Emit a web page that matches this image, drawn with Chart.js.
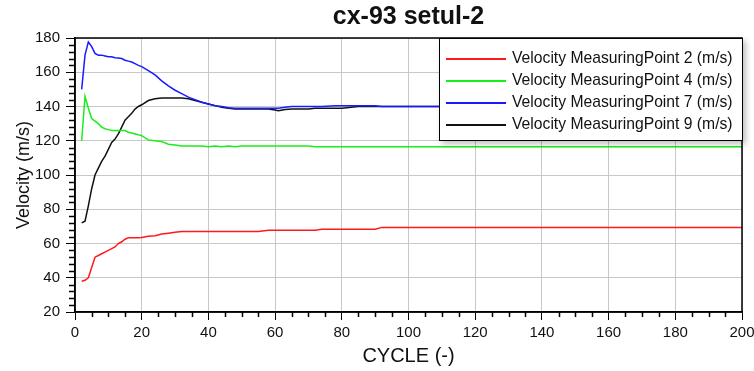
<!DOCTYPE html>
<html>
<head>
<meta charset="utf-8">
<script src="https://cdn.jsdelivr.net/npm/chart.js@4"></script>
<style>
  html, body { margin: 0; padding: 0; background: #fff; }
  #wrap { position: relative; width: 754px; height: 371px; }
  #legend {
    position: absolute; left: 439px; top: 38px; width: 302px; height: 101px;
    background: #fff; border: 1.5px solid #000;
    box-shadow: 3px 3px 6px rgba(0,0,0,0.25);
    font-family: "Liberation Sans", Arial, sans-serif; font-size: 15.7px; color: #111;
  }
  #legend .row { position: absolute; left: 6px; height: 22px; line-height: 22px; white-space: nowrap; }
  #legend .swatch { display: inline-block; width: 60px; height: 0; border-top: 2px solid; vertical-align: middle; margin-right: 6px; }
</style>
</head>
<body>
<div id="wrap">
  <canvas id="chart" width="754" height="371"></canvas>
  <div id="legend"></div>
</div>
<script>
const cycles = [2,3,4,5,6,7,8,9,10,11,12,13,14,15,16,17,18,19,20,
  22,24,26,28,30,32,34,36,38,40,42,44,46,48,50,
  55,58,60,61,63,65,70,72,74,78,80,85,90,92,
  100,120,140,160,180,200];

const mp2 = [38,38.5,40,46,52,53,54,55,56,57,58,60,61,62.5,63.3,63.3,63.3,63.3,63.5,
  64.2,64.5,65.5,66,66.5,67,67,67,67,67,67,67,67,67,67,
  67,67.7,67.7,67.7,67.7,67.7,67.7,67.7,68.3,68.3,68.3,68.3,68.3,69.4,
  69.4,69.4,69.4,69.4,69.4,69.4];

const mp4 = [120,146,139,133,131.5,130,128,127,126.5,126,126,126,126,126,125,124.5,124,123.5,123,
  120.5,120,119.5,118,117.5,117,117,117,117,116.5,117,116.5,117,116.5,117,
  117,117,117,117,117,117,117,116.5,116.5,116.5,116.5,116.5,116.5,116.5,
  116.5,116.5,116.5,116.5,116.5,116.5];

const mp7 = [150,170,177.7,175,171,170,170,169.5,169,169,168.5,168.3,168,167,166.5,166,165,164,163.3,
  161,158.5,155,152,149.5,147.5,145.5,144,142.5,141.5,140.5,140,139.3,139,139,
  139,139,139,139,139.5,140,140,140,140,140.5,140.5,140.5,140.5,140,
  140,140,140,140,140,140];

const mp9 = [72,73,82,92,100,104,108,111,115,119,121,124,128,132,134,136,138.5,140,141,
  143.5,144.5,145,145,145,145,144.5,143.5,142.5,141.5,140.5,139.5,139,138.5,138.5,
  138.5,138.5,138,137.5,138.3,138.5,138.5,139,139,139,139,140,140,140,
  140,140,140,140,140,140];

const seriesNames = [
  'Velocity MeasuringPoint 2 (m/s)',
  'Velocity MeasuringPoint 4 (m/s)',
  'Velocity MeasuringPoint 7 (m/s)',
  'Velocity MeasuringPoint 9 (m/s)'
];
const seriesColors = ['#ff1a1a', '#1aee1a', '#1a1aff', '#111111'];
const seriesValues = [mp2, mp4, mp7, mp9];

const xTicks = [0, 20, 40, 60, 80, 100, 120, 140, 160, 180, 200];
const yTicks = [20, 40, 60, 80, 100, 120, 140, 160, 180];

const FONT = '"Liberation Sans", Arial, sans-serif';

// frame + minor ticks
const framePlugin = {
  id: 'frame',
  afterDraw(chart) {
    const ctx = chart.ctx;
    const a = chart.chartArea;
    const xs = chart.scales.x, ys = chart.scales.y;
    ctx.save();
    ctx.strokeStyle = '#000';
    ctx.lineWidth = 1.5;
    ctx.strokeRect(a.left, a.top, a.right - a.left, a.bottom - a.top);
    ctx.beginPath();
    for (let v = 20; v <= 180; v += 4) {
      if (v % 20 === 0) continue;
      const y = Math.round(ys.getPixelForValue(v)) + 0.5;
      ctx.moveTo(a.left - 6, y);
      ctx.lineTo(a.left, y);
    }
    for (let v = 0; v <= 200; v += 5) {
      if (v % 20 === 0) continue;
      const x = Math.round(xs.getPixelForValue(v)) + 0.5;
      ctx.moveTo(x, a.bottom);
      ctx.lineTo(x, a.bottom + 5);
    }
    ctx.stroke();
    ctx.restore();
  }
};

new Chart(document.getElementById('chart'), {
  type: 'line',
  data: {
    datasets: seriesNames.map((name, k) => ({
      label: name,
      data: cycles.map((c, i) => ({ x: c, y: seriesValues[k][i] })),
      borderColor: seriesColors[k],
      borderWidth: 1.5,
      pointRadius: 0,
      tension: 0,
      fill: false
    }))
  },
  options: {
    responsive: false,
    animation: false,
    devicePixelRatio: 1,
    layout: { padding: { left: 0, right: 12, top: 0, bottom: 0 } },
    plugins: {
      legend: { display: false },
      tooltip: { enabled: false },
      title: {
        display: true,
        text: 'cx-93 setul-2',
        fullSize: false,
        color: '#111',
        font: { family: FONT, size: 25, weight: 'bold' },
        padding: { top: 2, bottom: 6 }
      }
    },
    scales: {
      x: {
        type: 'linear',
        min: 0, max: 200,
        afterBuildTicks: s => { s.ticks = xTicks.map(v => ({ value: v })); },
        afterFit: s => { s.height = 59; s.paddingLeft = 0; s.paddingRight = 0; },
        ticks: { color: '#111', font: { family: FONT, size: 15 }, padding: 4, maxRotation: 0 },
        grid: { color: '#c8c8c8', borderDash: [2, 2], tickColor: '#000', tickLength: 8, tickBorderDash: [] },
        border: { display: true, color: '#000', width: 1.5 },
        title: { display: true, text: 'CYCLE (-)', color: '#111', font: { family: FONT, size: 20 }, padding: { top: 0, bottom: 3 } }
      },
      y: {
        type: 'linear',
        min: 20, max: 180,
        afterBuildTicks: s => { s.ticks = yTicks.map(v => ({ value: v })); },
        afterFit: s => { s.width = 75; },
        ticks: { color: '#111', font: { family: FONT, size: 15 }, padding: 6 },
        grid: { color: '#c8c8c8', borderDash: [2, 2], tickColor: '#000', tickLength: 9, tickBorderDash: [] },
        border: { display: true, color: '#000', width: 1.5 },
        title: { display: true, text: 'Velocity (m/s)', color: '#111', font: { family: FONT, size: 18 }, padding: { top: 13, bottom: 0 } }
      }
    }
  },
  plugins: [framePlugin]
});

const legend = document.getElementById('legend');
seriesNames.forEach((name, k) => {
  const row = document.createElement('div');
  row.className = 'row';
  row.style.top = (8 + k * 22) + 'px';
  const sw = document.createElement('span');
  sw.className = 'swatch';
  sw.style.borderTopColor = seriesColors[k];
  row.appendChild(sw);
  row.appendChild(document.createTextNode(name));
  legend.appendChild(row);
});
</script>
</body>
</html>
